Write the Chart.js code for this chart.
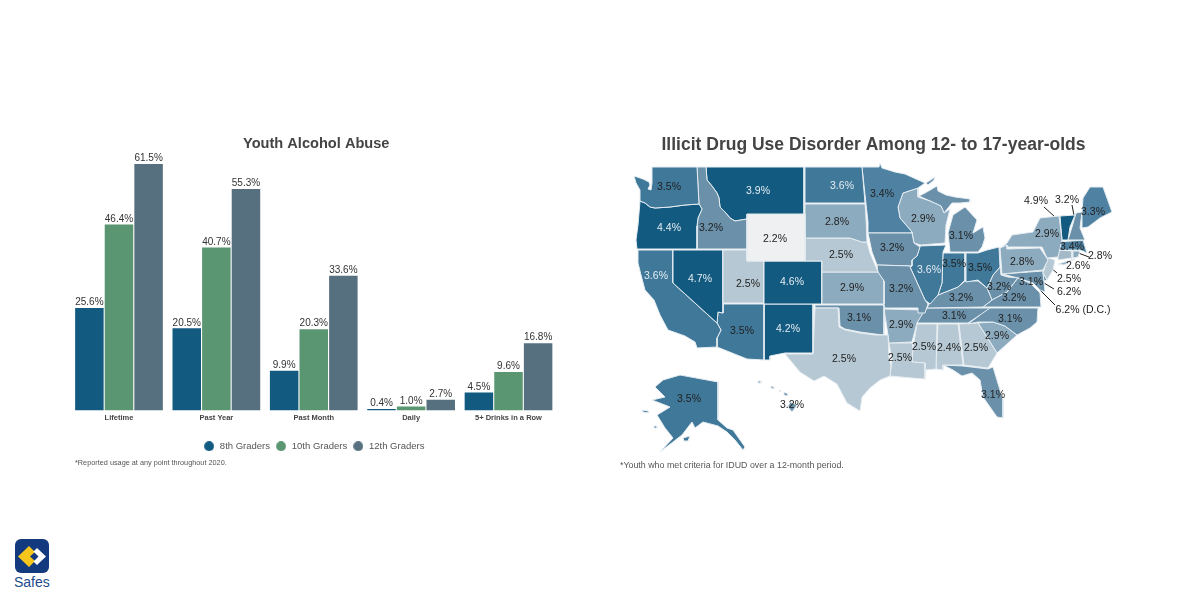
<!DOCTYPE html>
<html><head><meta charset="utf-8">
<script src="https://cdn.jsdelivr.net/npm/chart.js@4"></script>
<style>
html,body{margin:0;padding:0;background:#fff;width:1200px;height:600px;overflow:hidden;font-family:"Liberation Sans",Arial,sans-serif}
.box{position:absolute}
.note{position:absolute;color:#555;white-space:nowrap;opacity:.999}
</style></head><body>
<div class="box" style="left:60px;top:125px;width:512px;height:336px"><canvas id="bars"></canvas></div>
<div class="box" style="left:610px;top:125px;width:527px;height:360px"><canvas id="map"></canvas></div>
<div class="note" style="left:75px;top:458px;font-size:7.3px">*Reported usage at any point throughout 2020.</div>
<div class="note" style="left:620px;top:460px;font-size:8.85px">*Youth who met criteria for IDUD over a 12-month period.</div>
<svg class="box" style="left:15px;top:539px" width="34" height="34" viewBox="0 0 34 34">
<rect width="34" height="34" rx="6" fill="#13397f"/>
<path d="M14 7 L3 17.5 L14 28 L20 22 L15 17.5 L20 13 Z" fill="#f7c61c"/>
<path d="M22 9 L31 17.5 L22 26 L18.5 22.5 L23.5 17.5 L18.5 12.5 Z" fill="#fff"/>
</svg>
<div class="note" style="left:14px;top:574px;font-size:14px;color:#1d4a8c">Safes</div>
<script>
// ---- bar chart data ----
const categories = ["Lifetime","Past Year","Past Month","Daily","5+ Drinks in a Row"];
const grade8  = [25.6,20.5,9.9,0.4,4.5];
const grade10 = [46.4,40.7,20.3,1.0,9.6];
const grade12 = [61.5,55.3,33.6,2.7,16.8];

// ---- map outlines (map units) ----
const WA=[[634,176],[643,179],[649,182],[650,185],[648,189],[651,190],[652,183],[652,167],[697,167],[699,204],[685,205],[670,207],[655,208],[650,207],[645,203],[640,201],[640,190],[636,183]];
const OR=[[640,201],[645,203],[650,207],[655,208],[670,207],[685,205],[699,204],[702,209],[698,218],[697,226],[697,249],[637,249],[636,240],[638,225]];
const ID=[[697,167],[706,167],[707,180],[712,186],[717,193],[719,198],[720,207],[725,212],[730,218],[735,221],[747,219],[747,249],[697,249],[697,226],[698,218],[702,209],[699,204]];
const MT=[[706,167],[804,167],[804,214],[747,214],[747,219],[735,221],[730,218],[725,212],[720,207],[719,198],[717,193],[712,186],[707,180]];
const WY=[[747,214],[805,214],[805,261],[747,261]];
const ND=[[805,167],[862,167],[865,203],[805,203]];
const SD=[[805,204],[865,204],[866,218],[867,242],[862,242],[850,238],[805,238]];
const NE=[[805,238],[850,238],[862,242],[867,242],[870,253],[878,272],[822,272],[822,261],[805,261]];
const KS=[[822,272],[878,272],[884,281],[884,304],[822,304]];
const CO=[[764,261],[822,261],[822,304],[764,304]];
const UT=[[723,250],[747,250],[747,261],[764,261],[764,303],[723,303]];
const NV=[[673,250],[723,250],[723,313],[718,312],[717,323],[673,283]];
const CA=[[638,250],[673,250],[673,283],[717,323],[721,330],[717,338],[717,347],[697,348],[695,342],[685,336],[668,330],[660,315],[654,300],[645,290],[641,275],[638,263]];
const AZ=[[723,304],[764,304],[764,360],[747,359],[717,347],[717,338],[721,330],[717,323],[718,312],[723,313]];
const NM=[[764,304],[813,304],[813,353],[785,353],[770,356],[770,360],[764,360]];
const TX=[[815,308],[838,308],[839,327],[845,330],[860,333],[875,335],[888,335],[889,358],[891,365],[890,376],[880,380],[870,388],[862,397],[860,411],[847,403],[837,384],[824,376],[814,381],[800,372],[785,354],[813,354]];
const OK=[[815,305],[884,305],[884,335],[875,334],[860,332],[845,329],[840,326],[839,308],[815,308]];
const MO=[[877,265],[912,266],[910,267],[915,278],[925,300],[928,304],[925,313],[918,313],[918,308],[884,308],[884,281],[878,273]];
const IA=[[868,233],[912,233],[914,243],[920,247],[917,256],[912,260],[912,266],[877,265],[872,252]];
const MN=[[862,167],[879,167],[880,163],[882,168],[895,172],[905,174],[925,183],[918,188],[903,193],[898,207],[900,218],[912,232],[912,233],[868,233],[868,222],[866,204]];
const WI=[[898,207],[903,193],[918,188],[918,197],[930,201],[941,206],[944,213],[950,209],[946,225],[945,243],[921,245],[914,243],[912,232],[900,218]];
const IL=[[920,246],[946,245],[943,252],[942,283],[938,295],[930,304],[925,300],[915,278],[910,267],[912,260],[917,256]];
const IN=[[943,253],[965,253],[965,280],[958,287],[938,295],[942,283]];
const OH=[[966,253],[978,253],[987,250],[999,247],[1000,267],[993,275],[987,288],[978,280],[966,282]];
const MI_L=[[950,252],[948,233],[953,215],[965,207],[977,220],[973,233],[983,227],[985,238],[982,247],[978,252]];
const MI_U=[[919,196],[925,193],[937,186],[938,191],[946,195],[955,197],[970,199],[970,202],[960,203],[952,203],[944,213],[941,206],[930,201]];
const MI_I=[[926,183],[935,177],[934,180],[928,185]];
const KY=[[929,304],[938,295],[958,287],[965,281],[978,281],[987,288],[992,300],[983,307],[927,308]];
const TN=[[927,308],[990,308],[980,315],[968,323],[917,323],[923,313]];
const NC=[[983,308],[1038,308],[1037,322],[1030,328],[1017,335],[1005,326],[993,322],[978,322],[968,324],[980,315]];
const VA=[[983,307],[992,300],[1007,292],[1018,278],[1030,283],[1040,293],[1041,307]];
const WV=[[987,288],[993,275],[1000,267],[1001,275],[1008,277],[1018,278],[1007,292],[992,300]];
const PA=[[1000,248],[1007,245],[1007,249],[1040,248],[1048,260],[1043,270],[1002,274]];
const NY=[[1002,247],[1007,243],[1012,235],[1033,232],[1040,218],[1059,216],[1062,240],[1058,257],[1047,258],[1042,247]];
const NY_LI=[[1058,264],[1075,259],[1064,265]];
const NJ=[[1048,258],[1055,260],[1053,270],[1047,280],[1043,273]];
const DE=[[1043,273],[1047,280],[1044,281]];
const MD=[[1002,274],[1043,271],[1044,281],[1045,292],[1040,290],[1033,283],[1018,278]];
const VT=[[1060,216],[1075,215],[1070,227],[1068,240],[1062,240]];
const NH=[[1076,213],[1082,212],[1080,228],[1085,240],[1068,240],[1072,227]];
const ME=[[1082,212],[1083,198],[1090,187],[1103,187],[1112,212],[1100,218],[1088,227],[1082,228]];
const MA=[[1059,242],[1083,240],[1087,253],[1080,250],[1059,250]];
const CT=[[1058,250],[1072,251],[1072,258],[1058,260]];
const RI=[[1073,251],[1080,251],[1078,257],[1073,258]];
const AR=[[884,309],[923,310],[925,313],[917,323],[912,342],[889,343],[888,335]];
const LA=[[889,343],[912,343],[913,348],[912,362],[925,363],[925,379],[912,378],[890,376],[892,360]];
const MS=[[917,324],[937,324],[936,369],[925,370],[925,363],[912,362],[913,348]];
const AL=[[938,324],[958,324],[963,365],[943,365],[943,370],[936,369]];
const GA=[[959,324],[978,323],[997,353],[988,368],[964,365]];
const SC=[[978,323],[993,322],[1005,326],[1017,335],[997,353]];
const FL=[[943,365],[963,366],[988,369],[993,367],[1003,400],[1003,418],[997,417],[983,397],[980,380],[972,373],[962,376],[953,370]];
const AK=[[680,375],[718,382],[718,420],[727,428],[733,430],[745,447],[743,450],[735,440],[727,432],[718,426],[703,422],[695,428],[692,422],[682,435],[660,452],[673,438],[665,428],[657,415],[670,407],[652,400],[665,397],[655,387],[663,380]];
const AK_A=[[642,410],[648,411],[649,413],[643,412]];
const AK_B=[[683,438],[690,436],[688,441],[684,441]];
const AK_C=[[654,426],[657,426],[657,428],[654,428]];
const HI_A=[[790,402],[797,405],[792,412],[788,407]];
const HI_B=[[758,381],[761,381],[761,383],[758,383]];
const HI_C=[[771,386],[774,387],[774,389],[771,388]];
const HI_D=[[784,392],[788,394],[787,396],[784,395]];
const HI_E=[[779,390],[781,391],[780,392],[779,391]];

const stateParts = {WA:[WA],OR:[OR],ID:[ID],MT:[MT],WY:[WY],ND:[ND],SD:[SD],NE:[NE],KS:[KS],CO:[CO],UT:[UT],NV:[NV],CA:[CA],AZ:[AZ],NM:[NM],TX:[TX],OK:[OK],MO:[MO],IA:[IA],MN:[MN],WI:[WI],IL:[IL],IN:[IN],OH:[OH],MI:[MI_L,MI_U,MI_I],KY:[KY],TN:[TN],NC:[NC],VA:[VA],WV:[WV],PA:[PA],NY:[NY,NY_LI],NJ:[NJ],DE:[DE],MD:[MD],VT:[VT],NH:[NH],ME:[ME],MA:[MA],CT:[CT],RI:[RI],AR:[AR],LA:[LA],MS:[MS],AL:[AL],GA:[GA],SC:[SC],FL:[FL],AK:[AK,AK_A,AK_B,AK_C],HI:[HI_A,HI_B,HI_C,HI_D,HI_E]};
const stateValues = {WA:3.5,OR:4.4,ID:3.2,MT:3.9,WY:2.2,ND:3.6,SD:2.8,NE:2.5,KS:2.9,CO:4.6,UT:2.5,NV:4.7,CA:3.6,AZ:3.5,NM:4.2,TX:2.5,OK:3.1,MO:3.2,IA:3.2,MN:3.4,WI:2.9,IL:3.6,IN:3.5,OH:3.5,MI:3.1,KY:3.2,TN:3.1,NC:3.1,VA:3.2,WV:3.2,PA:2.8,NY:2.9,NJ:2.5,DE:6.2,MD:3.1,VT:4.9,NH:3.2,ME:3.3,MA:3.4,CT:2.6,RI:2.8,AR:2.9,LA:2.5,MS:2.5,AL:2.4,GA:2.5,SC:2.9,FL:3.1,AK:3.5,HI:3.2};

// label anchors on the map
const mapLabels = [["3.5%",669,187],["3.9%",758,191],["3.6%",842,186],["3.4%",882,194],["4.4%",669,228],["3.2%",711,228],["2.2%",775,239],["2.8%",837,222],["2.9%",923,219],["3.1%",961,236],["2.5%",841,255],["3.2%",892,248],["3.6%",656,276],["4.7%",700,279],["2.5%",748,284],["4.6%",792,282],["2.9%",852,288],["3.2%",901,289],["3.6%",929,270],["3.5%",954,264],["3.5%",980,268],["2.8%",1022,262],["2.9%",1047,234],["3.3%",1093,212],["3.4%",1072,247],["3.2%",961,298],["3.2%",999,287],["3.2%",1014,298],["3.1%",1031,282],["3.1%",954,316],["3.1%",1010,319],["2.9%",901,325],["3.1%",859,318],["2.9%",997,336],["2.5%",924,347],["2.4%",949,348],["2.5%",976,348],["2.5%",900,358],["2.5%",844,359],["3.5%",742,331],["4.2%",788,329],["3.1%",993,395],["3.5%",689,399],["3.2%",792,405],["4.9%",1036,201],["3.2%",1067,200],["2.8%",1100,256],["2.6%",1078,266],["2.5%",1069,279],["6.2%",1069,292],["6.2% (D.C.)",1083,310]];
const leaderLines = [[[1044,207],[1065,226]],[[1072,205],[1076,226]],[[1089,257],[1073,251]],[[1072,258],[1063,253]],[[1057,273],[1050,267]],[[1054,289],[1044,283]],[[1055,305],[1033,283]]];

const shadeBands = [[2.2,"#eef0f1"],[2.5,"#b6c8d3"],[2.6,"#a3b9c8"],[2.9,"#8dabbf"],[3.2,"#6a90aa"],[3.4,"#4f82a2"],[3.6,"#3f7899"],[9,"#135a80"]];
const shade = (k,v)=> k==="DE" ? "#6a90aa" : shadeBands.find(b=>v<=b[0])[1];
const FONT = '"Liberation Sans",Arial,sans-serif';

const dot = col => {const c=document.createElement("canvas");c.width=c.height=10;const g=c.getContext("2d");g.fillStyle=col;g.beginPath();g.arc(5,5,4.9,0,Math.PI*2);g.fill();return c;};

const barLabels = {id:"barLabels",afterLayout(c){c.titleBlock.left+=2.5;c.titleBlock.right+=2.5;},afterDatasetsDraw(c){
  const x=c.ctx;x.save();x.font="10px "+FONT;x.fillStyle="#333";x.textAlign="center";x.textBaseline="bottom";
  c.data.datasets.forEach((d,i)=>c.getDatasetMeta(i).data.forEach((b,j)=>x.fillText(d.data[j].toFixed(1)+"%",b.x,b.y-0.5)));
  x.restore();}};

new Chart(document.getElementById("bars"),{type:"bar",
 data:{labels:categories,datasets:[
  {label:"8th Graders",data:grade8,backgroundColor:"#135a80"},
  {label:"10th Graders",data:grade10,backgroundColor:"#5a9672"},
  {label:"12th Graders",data:grade12,backgroundColor:"#56707f"}]},
 options:{responsive:true,maintainAspectRatio:false,animation:false,devicePixelRatio:1,
  layout:{padding:{left:10.3,right:14.8}},
  datasets:{bar:{categoryPercentage:0.912,barPercentage:0.963}},
  plugins:{tooltip:{enabled:false},
   title:{display:true,text:"Youth Alcohol Abuse",color:"#444",font:{family:FONT,size:14.6,weight:"bold",lineHeight:1.2},padding:{top:10,bottom:5.5}},
   legend:{position:"bottom",labels:{usePointStyle:true,boxWidth:7,boxHeight:7,pointStyleWidth:12,padding:5,color:"#555",font:{family:FONT,size:9.5},
     generateLabels(c){const items=Chart.defaults.plugins.legend.labels.generateLabels(c);items.forEach(it=>{it.pointStyle=dot(it.fillStyle);});return items;}}}},
  scales:{
   x:{grid:{display:false,drawTicks:false},border:{display:false},afterFit(s){s.height=26;},
      ticks:{color:"#444",padding:2.5,font:{family:FONT,size:7.5,weight:"bold"},autoSkip:false,maxRotation:0}},
   y:{display:false,min:0,max:63}}},
 plugins:[barLabels]});

const mapSets=[];
Object.keys(stateParts).forEach(k=>{const col=shade(k,stateValues[k]);
 stateParts[k].forEach(p=>mapSets.push({label:k,data:[...p,p[0]],showLine:true,fill:"shape",tension:0,backgroundColor:col,borderColor:"#e4ecf1",borderWidth:1,pointRadius:0}));});
leaderLines.forEach(l=>mapSets.push({label:"leader",data:l,showLine:true,fill:false,borderColor:"#222",borderWidth:1,pointRadius:0}));

const mapText={id:"mapText",afterDatasetsDraw(c){
  const x=c.ctx,X=c.scales.x,Y=c.scales.y;x.save();x.font="10.5px "+FONT;x.textBaseline="middle";x.textAlign="center";
  mapLabels.forEach(([t,a,b])=>{const v=parseFloat(t);x.fillStyle=(v>=3.6&&v<4.9)?"#e3ecf2":"#222";x.fillText(t,X.getPixelForValue(a),Y.getPixelForValue(b));});
  x.restore();}};

new Chart(document.getElementById("map"),{type:"scatter",
 data:{datasets:mapSets},
 options:{responsive:true,maintainAspectRatio:false,animation:false,devicePixelRatio:1,
  plugins:{legend:{display:false},tooltip:{enabled:false},
   title:{display:true,text:"Illicit Drug Use Disorder Among 12- to 17-year-olds",color:"#444",font:{family:FONT,size:17.5,weight:"bold",lineHeight:1.2},padding:{top:10,bottom:1}}},
  scales:{x:{display:false,min:610,max:1137},y:{display:false,reverse:true,min:157,max:485}}},
 plugins:[mapText]});
</script>
</body></html>
